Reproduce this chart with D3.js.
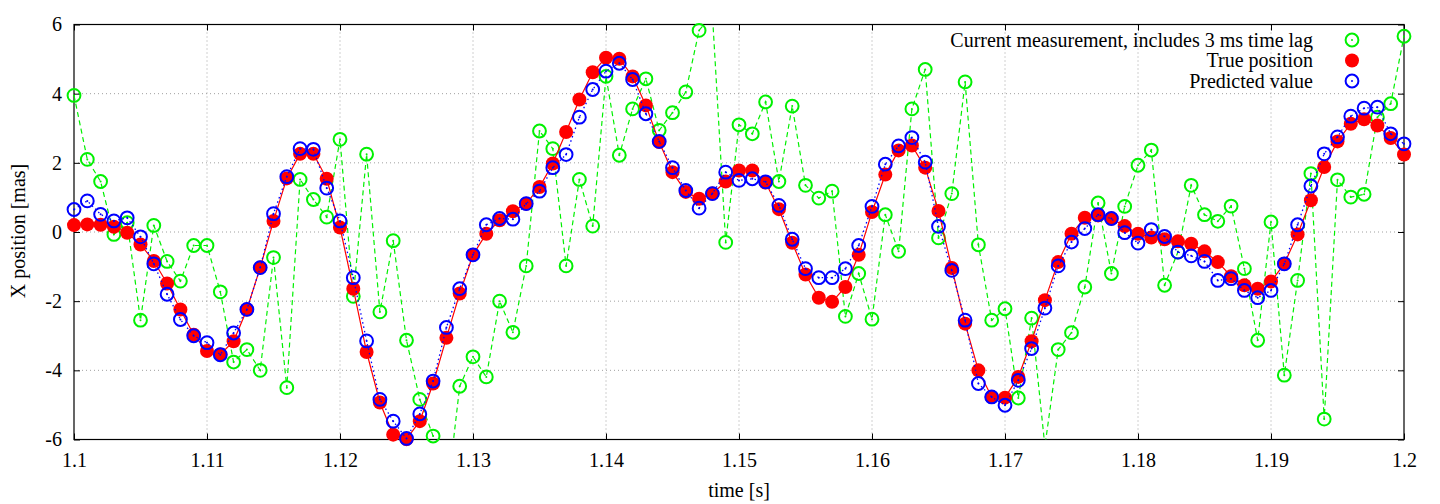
<!DOCTYPE html>
<html>
<head>
<meta charset="utf-8">
<script src="https://cdn.jsdelivr.net/npm/d3@7"></script>
<style>
  body { margin: 0; background: #fff; }
  text { font-family: "Liberation Serif", "Times New Roman", serif; font-size: 20px; fill: #000; }
</style>
</head>
<body>
<div id="chart"></div>
<script>
// time axis: one sample every millisecond from 1.100 s to 1.200 s
var tStart = 1.1, tStep = 0.001;

// Current measurement, includes 3 ms time lag
var measured = [3.95, 2.1, 1.46, -0.07, 0.27, -2.55, 0.19, -0.85, -1.42, -0.39,
  -0.39, -1.73, -3.76, -3.4, -4.0, -0.74, -4.5, 1.52, 0.94, 0.43,
  2.68, -1.86, 2.25, -2.31, -0.25, -3.13, -4.84, -5.9, -7.8, -4.46,
  -3.61, -4.19, -2.0, -2.9, -0.98, 2.92, 2.41, -0.98, 1.52, 0.17,
  4.5, 2.22, 3.56, 4.43, 2.94, 3.45, 4.05, 5.83, 6.3, -0.3,
  3.1, 2.84, 3.76, 1.46, 3.64, 1.35, 0.98, 1.18, -2.44, -1.2,
  -2.52, 0.5, -0.56, 3.56, 4.7, -0.17, 1.11, 4.34, -0.37, -2.55,
  -2.22, -4.8, -2.49, -6.2, -3.4, -2.91, -1.59, 0.84, -1.2, 0.74,
  1.93, 2.37, -1.54, -0.58, 1.35, 0.5, 0.31, 0.75, -1.06, -3.13,
  0.29, -4.14, -1.4, 1.69, -5.41, 1.51, 1.01, 1.09, 3.32, 3.71,
  5.66];

// True position
var truePos = [0.2, 0.22, 0.21, 0.15, -0.02, -0.36, -0.84, -1.49, -2.24, -2.97,
  -3.44, -3.54, -3.16, -2.24, -1.03, 0.32, 1.55, 2.26, 2.26, 1.54,
  0.13, -1.64, -3.47, -4.93, -5.86, -5.99, -5.47, -4.38, -3.06, -1.78,
  -0.66, -0.05, 0.34, 0.6, 0.82, 1.3, 1.98, 2.89, 3.83, 4.62,
  5.04, 5.01, 4.5, 3.66, 2.6, 1.73, 1.16, 0.96, 1.11, 1.46,
  1.78, 1.78, 1.43, 0.66, -0.31, -1.23, -1.9, -2.02, -1.59, -0.66,
  0.58, 1.66, 2.36, 2.5, 1.86, 0.61, -1.04, -2.65, -4.0, -4.77,
  -4.79, -4.19, -3.16, -1.97, -0.87, -0.05, 0.41, 0.48, 0.39, 0.17,
  -0.05, -0.16, -0.21, -0.27, -0.34, -0.56, -0.87, -1.28, -1.54, -1.64,
  -1.43, -0.92, -0.07, 0.92, 1.88, 2.62, 3.13, 3.26, 3.08, 2.72,
  2.24];

// Predicted value
var predicted = [0.65, 0.9, 0.51, 0.32, 0.41, -0.14, -0.92, -1.8, -2.53, -3.0,
  -3.2, -3.55, -2.92, -2.24, -1.03, 0.53, 1.6, 2.41, 2.39, 1.27,
  0.32, -1.32, -3.15, -4.84, -5.47, -5.97, -5.26, -4.31, -2.76, -1.64,
  -0.66, 0.21, 0.39, 0.37, 0.82, 1.18, 1.86, 2.24, 3.32, 4.12,
  4.65, 4.88, 4.41, 3.42, 2.62, 1.86, 1.2, 0.69, 1.11, 1.73,
  1.49, 1.54, 1.45, 0.77, -0.21, -1.06, -1.32, -1.32, -1.06, -0.39,
  0.74, 1.96, 2.49, 2.73, 2.02, 0.16, -1.11, -2.55, -4.38, -4.77,
  -5.01, -4.29, -3.37, -2.2, -0.98, -0.29, 0.1, 0.5, 0.39, -0.02,
  -0.32, 0.07, -0.13, -0.58, -0.69, -0.85, -1.4, -1.35, -1.69, -1.9,
  -1.69, -0.92, 0.21, 1.33, 2.26, 2.75, 3.35, 3.58, 3.61, 2.84,
  2.55];

var xTicks = [1.1, 1.11, 1.12, 1.13, 1.14, 1.15, 1.16, 1.17, 1.18, 1.19, 1.2];
var xTickLabels = ["1.1", "1.11", "1.12", "1.13", "1.14", "1.15", "1.16", "1.17", "1.18", "1.19", "1.2"];
var yTicks = [-6, -4, -2, 0, 2, 4, 6];
var yTickLabels = ["-6", "-4", "-2", "0", "2", "4", "6"];

var legendNames = ["Current measurement, includes 3 ms time lag", "True position", "Predicted value"];

var W = 1440, H = 504;
var plotLeft = 74, plotRight = 1404, plotTop = 24.5, plotBottom = 439.5;

var svg = d3.select('#chart').append('svg')
            .attr('width', W)
            .attr('height', H);

var x = d3.scaleLinear().domain([1.1, 1.2]).range([plotLeft, plotRight]);
var y = d3.scaleLinear().domain([-6, 6]).range([plotBottom, plotTop]);

function toPoints(vals) {
  return vals.map(function(v, i) { return { t: tStart + i * tStep, v: v }; });
}

svg.append('clipPath').attr('id', 'plot-clip')
   .append('rect')
   .attr('x', plotLeft).attr('y', plotTop)
   .attr('width', plotRight - plotLeft).attr('height', plotBottom - plotTop);

// grid
var grid = svg.append('g').attr('class', 'grid');
grid.selectAll('line.gx')
    .data(xTicks.slice(1, -1))
    .enter().append('line')
    .attr('x1', function(d) { return x(d); }).attr('x2', function(d) { return x(d); })
    .attr('y1', plotTop).attr('y2', plotBottom);
grid.selectAll('line.gy')
    .data(yTicks.slice(1, -1))
    .enter().append('line')
    .attr('y1', function(d) { return y(d); }).attr('y2', function(d) { return y(d); })
    .attr('x1', plotLeft).attr('x2', plotRight);
grid.selectAll('line')
    .attr('stroke', '#a0a0a0')
    .attr('stroke-width', 1)
    .attr('stroke-dasharray', '1,3');

// axes, ticks inside on all four sides
var xAxis = d3.axisBottom(x).tickValues(xTicks)
              .tickFormat(function(d, i) { return xTickLabels[i]; })
              .tickSizeInner(-6).tickSizeOuter(0).tickPadding(13);
var xAxisTop = d3.axisTop(x).tickValues(xTicks).tickFormat('')
                 .tickSizeInner(-6).tickSizeOuter(0);
var yAxis = d3.axisLeft(y).tickValues(yTicks)
              .tickFormat(function(d, i) { return yTickLabels[i]; })
              .tickSizeInner(-6).tickSizeOuter(0).tickPadding(12);
var yAxisRight = d3.axisRight(y).tickValues(yTicks).tickFormat('')
                   .tickSizeInner(-6).tickSizeOuter(0);

var axes = [
  svg.append('g').attr('transform', 'translate(0,' + plotBottom + ')').call(xAxis),
  svg.append('g').attr('transform', 'translate(0,' + plotTop + ')').call(xAxisTop),
  svg.append('g').attr('transform', 'translate(' + plotLeft + ',0)').call(yAxis),
  svg.append('g').attr('transform', 'translate(' + plotRight + ',0)').call(yAxisRight)
];
axes.forEach(function(a) {
  a.select('.domain').remove();
  a.selectAll('line').attr('stroke', '#000').attr('stroke-width', 1);
  a.selectAll('text').attr('font-family', '"Liberation Serif", serif').attr('font-size', 20).attr('fill', '#000');
});

svg.append('rect')
   .attr('x', plotLeft).attr('y', plotTop)
   .attr('width', plotRight - plotLeft).attr('height', plotBottom - plotTop)
   .attr('fill', 'none').attr('stroke', '#000').attr('stroke-width', 1.2);

// axis titles
svg.append('text')
   .attr('x', (plotLeft + plotRight) / 2).attr('y', 497)
   .attr('text-anchor', 'middle')
   .text('time [s]');
svg.append('text')
   .attr('transform', 'translate(25,231) rotate(-90)')
   .attr('text-anchor', 'middle')
   .text('X position [mas]');

var line = d3.line()
             .x(function(d) { return x(d.t); })
             .y(function(d) { return y(d.v); });

function inRange(d) { return d.v >= -6 && d.v <= 6; }

function openCircles(g, pts, color) {
  var sel = g.selectAll('g.pt').data(pts.filter(inRange)).enter().append('g')
             .attr('transform', function(d) { return 'translate(' + x(d.t) + ',' + y(d.v) + ')'; });
  sel.append('circle').attr('r', 6.4)
     .attr('fill', 'none').attr('stroke', color).attr('stroke-width', 2);
  sel.append('circle').attr('r', 1).attr('fill', color);
}

// measured series
var mPts = toPoints(measured);
var gM = svg.append('g');
gM.append('path').datum(mPts)
  .attr('clip-path', 'url(#plot-clip)')
  .attr('d', line)
  .attr('fill', 'none').attr('stroke', '#00f000')
  .attr('stroke-width', 1.2).attr('stroke-dasharray', '5,3.5');
openCircles(gM, mPts, '#00f000');

// true position
var tPts = toPoints(truePos);
var gT = svg.append('g');
gT.append('path').datum(tPts)
  .attr('clip-path', 'url(#plot-clip)')
  .attr('d', line)
  .attr('fill', 'none').attr('stroke', '#ff0000').attr('stroke-width', 1.2);
gT.selectAll('circle').data(tPts.filter(inRange)).enter().append('circle')
  .attr('cx', function(d) { return x(d.t); })
  .attr('cy', function(d) { return y(d.v); })
  .attr('r', 7).attr('fill', '#ff0000');

// predicted value
var pPts = toPoints(predicted);
var gP = svg.append('g');
gP.append('path').datum(pPts)
  .attr('clip-path', 'url(#plot-clip)')
  .attr('d', line)
  .attr('fill', 'none').attr('stroke', '#0000ff')
  .attr('stroke-width', 1.3).attr('stroke-dasharray', '1.5,3');
openCircles(gP, pPts, '#0000ff');

// legend
var legendColors = ['#00f000', '#ff0000', '#0000ff'];
var legend = svg.append('g');
legendNames.forEach(function(name, i) {
  var ly = 40 + i * 20.5;
  legend.append('text')
        .attr('x', 1313).attr('y', ly)
        .attr('dy', '0.33em')
        .attr('text-anchor', 'end')
        .text(name);
  if (i === 1) {
    legend.append('circle').attr('cx', 1352).attr('cy', ly).attr('r', 7).attr('fill', legendColors[i]);
  } else {
    legend.append('circle').attr('cx', 1352).attr('cy', ly).attr('r', 6.4)
          .attr('fill', 'none').attr('stroke', legendColors[i]).attr('stroke-width', 2);
    legend.append('circle').attr('cx', 1352).attr('cy', ly).attr('r', 1).attr('fill', legendColors[i]);
  }
});
</script>
</body>
</html>
